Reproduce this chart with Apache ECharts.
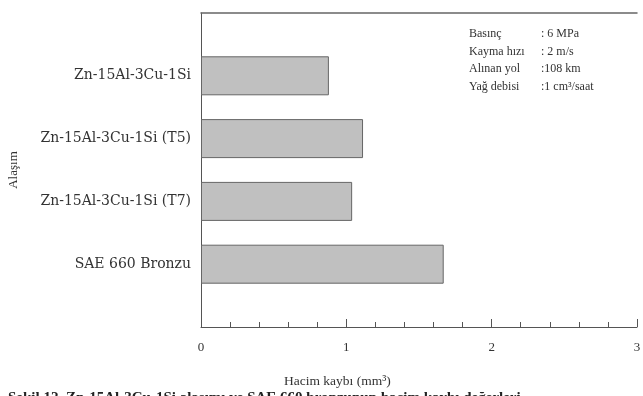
<!DOCTYPE html>
<html><head><meta charset="utf-8">
<script src="https://cdn.jsdelivr.net/npm/echarts@6/dist/echarts.min.js"></script>
<style>html,body{margin:0;padding:0;background:#fff}#c{width:643px;height:396px}</style>
</head><body><div id="c"></div>
<script>
const categories = ['', 'Zn-15Al-3Cu-1Si', 'Zn-15Al-3Cu-1Si (T5)', 'Zn-15Al-3Cu-1Si (T7)', 'SAE 660 Bronzu', ''];
const volumeLoss = [null, 0.88, 1.115, 1.04, 1.67, null];
const xTicks = [0, 1, 2, 3];
const condLabels = ['Basınç', 'Kayma hızı', 'Alınan yol', 'Yağ debisi'];
const condValues = [': 6 MPa', ': 2 m/s', ':108 km', ':1 cm³/saat'];

const serif = '"Liberation Serif","DejaVu Serif",serif';
const wideSerif = '"DejaVu Serif","Liberation Serif",serif';
const chart = echarts.init(document.getElementById('c'));
const graphics = [];
condLabels.forEach((t, i) => {
  graphics.push({type:'text', left:469, top:28 + i*17.5, style:{text:t, font:'12px ' + serif, fill:'#333'}});
  graphics.push({type:'text', left:541, top:28 + i*17.5, style:{text:condValues[i], font:'12px ' + serif, fill:'#333'}});
});
graphics.push({type:'text', left:284, top:374, style:{text:'Hacim kaybı (mm³)', font:'13.5px ' + serif, fill:'#333'}});
graphics.push({type:'text', left:8, top:391, style:{text:'Şekil 12. Zn-15Al-3Cu-1Si alaşımı ve SAE 660 bronzunun hacim kaybı değerleri', font:'bold 15px ' + serif, fill:'#222'}});

chart.setOption({
  animation:false,
  grid:{left:201, right:6, top:13, bottom:69, containLabel:false, outerBoundsMode:'none'},
  xAxis:[{
    type:'value', min:xTicks[0], max:xTicks[xTicks.length-1], interval:1, position:'bottom',
    axisLine:{show:true, lineStyle:{color:'#555', width:1}},
    axisTick:{show:true, inside:true, length:8, lineStyle:{color:'#555'}},
    minorTick:{show:true, splitNumber:5, length:5, lineStyle:{color:'#555'}},
    splitLine:{show:false},
    axisLabel:{margin:14, fontFamily:serif, fontSize:13, color:'#333'}
  },{
    type:'value', min:0, max:3, position:'top',
    axisLine:{show:true, lineStyle:{color:'#666', width:1.5}},
    axisTick:{show:false}, axisLabel:{show:false}, splitLine:{show:false}
  }],
  yAxis:{
    type:'category', data:categories, inverse:true, boundaryGap:false,
    name:'Alaşım', nameLocation:'middle', nameGap:181, nameRotate:90,
    nameTextStyle:{fontFamily:serif, fontSize:13, color:'#333'},
    axisLine:{show:true, lineStyle:{color:'#555', width:1}},
    axisTick:{show:false},
    axisLabel:{margin:10, fontFamily:wideSerif, fontSize:14, color:'#333'}
  },
  series:[{
    type:'bar', data:volumeLoss, barWidth:39,
    itemStyle:{color:'#c0c0c0', borderColor:'#666', borderWidth:1}
  }],
  graphic:graphics
});
</script></body></html>
